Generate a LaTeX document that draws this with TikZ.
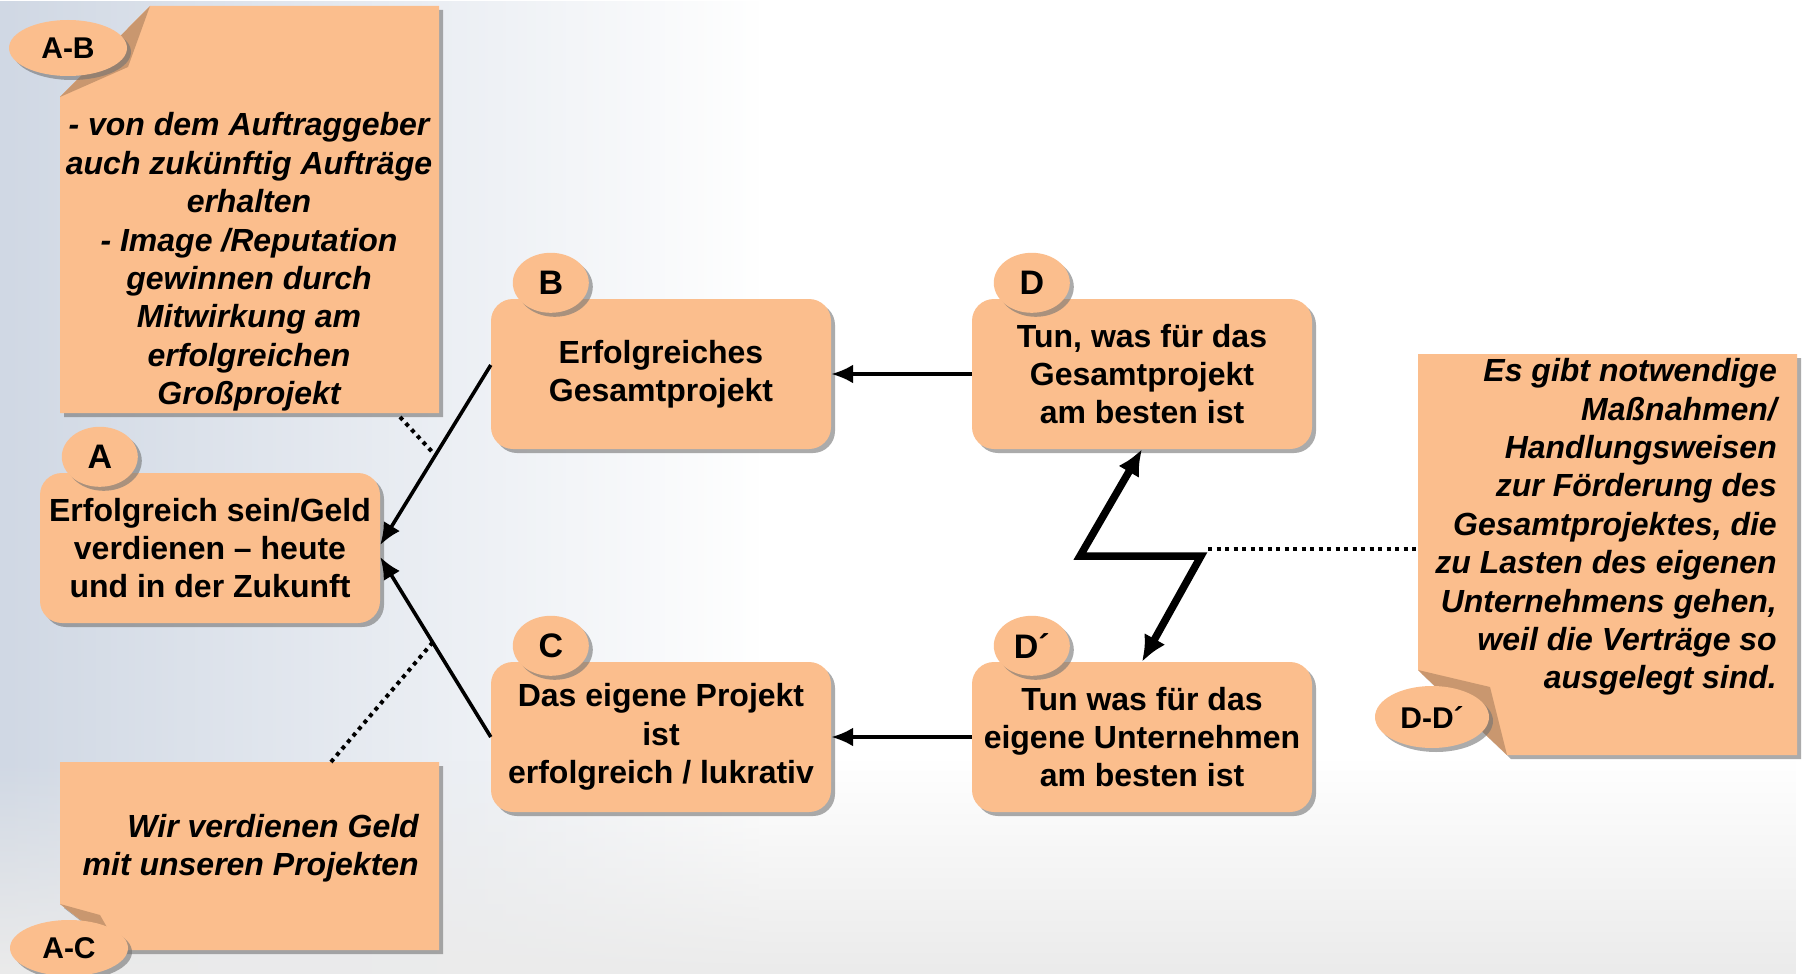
\documentclass[tikz,border=0pt]{standalone}
\usepackage{fontspec}
\setmainfont{Liberation Sans}
\usetikzlibrary{positioning,shapes.geometric,shadows,arrows.meta,fadings}

\definecolor{peach}{RGB}{251,190,141}
\definecolor{flapcol}{RGB}{201,151,111}
\definecolor{bgblue}{RGB}{208,216,228}

\tikzset{
  softshadow/.style={drop shadow={shadow xshift=4pt,shadow yshift=-4pt,fill=black!55,opacity=.6}},
  box/.style={rectangle,rounded corners=22pt,fill=peach,minimum width=340pt,minimum height=150pt,
    inner sep=2pt,align=center,font=\fontsize{32}{38.4}\selectfont\bfseries,softshadow},
  letter/.style={ellipse,fill=peach,minimum width=76pt,minimum height=60pt,inner sep=0pt,
    font=\fontsize{34}{40}\selectfont\bfseries,softshadow},
  tag/.style={ellipse,fill=peach,minimum width=118pt,minimum height=56pt,inner sep=0pt,
    font=\fontsize{30}{36}\selectfont\bfseries,softshadow},
  note/.style={fill=peach,softshadow},
  notetext/.style={inner sep=0pt,font=\fontsize{32}{38.4}\selectfont\bfseries\itshape},
  link/.style={line width=3.6pt,-{Latex[length=22pt,width=19pt]}},
  zigzag/.style={line width=7.5pt,line join=miter,{Latex[length=26pt,width=24pt]}-{Latex[length=26pt,width=24pt]}},
  dotline/.style={line width=4pt,dash pattern=on 4pt off 4.5pt}
}

\begin{document}
\begin{tikzpicture}[x=1pt,y=-1pt]
  \useasboundingbox (0,0) rectangle (1805,974);
  % background
  \fill[white] (0,0) rectangle (1805,974);
  \fill[bgblue,path fading=east] (0,0) rectangle (760,974);
  \fill[black!8,path fading=north] (0,760) rectangle (1805,974);

  % notes
  \fill[note] (150,6) -- (439,6) -- (439,413) -- (60,413) -- (60,97) -- cycle;
  \fill[flapcol] (150,6) -- (128,67) -- (60,97) -- cycle;
  \fill[note] (60,762) -- (439,762) -- (439,950) -- (120,950) -- (60,904) -- cycle;
  \fill[flapcol] (60,904) -- (100,915) -- (120,950) -- cycle;
  \fill[note] (1418,354) -- (1797,354) -- (1797,755) -- (1507,755) -- (1418,670) -- cycle;
  \fill[flapcol] (1418,670) -- (1490,687) -- (1507,755) -- cycle;

  \node[tag] (tAB) at (68,48) {A-B};
  \node[tag] (tAC) at (69,948) {A-C};
  \node[tag,minimum width=114pt,minimum height=62pt] (tDD) at (1432,717) {D-D\char"00B4};

  \node[notetext,align=center] (nAB) at (249,262) {- von dem Auftraggeber\\auch zukünftig Aufträge\\erhalten\\- Image /Reputation\\gewinnen durch\\Mitwirkung am\\erfolgreichen\\Großprojekt};
  \node[notetext,align=right,anchor=east] (nAC) at (419,848) {Wir verdienen Geld\\mit unseren Projekten};
  \node[notetext,align=right,anchor=east] (nDD) at (1777,527) {Es gibt notwendige\\Maßnahmen/\\Handlungsweisen\\zur Förderung des\\Gesamtprojektes, die\\zu Lasten des eigenen\\Unternehmens gehen,\\weil die Verträge so\\ausgelegt sind.};

  % boxes
  \node[box] (boxA) at (210,548) {Erfolgreich sein/Geld\\verdienen -- heute\\und in der Zukunft};
  \node[box] (boxB) at (661,374) {Erfolgreiches\\Gesamtprojekt};
  \node[box] (boxC) at (661,737) {Das eigene Projekt\\ist\\erfolgreich / lukrativ};
  \node[box] (boxD) at (1142,374) {Tun, was für das\\Gesamtprojekt\\am besten ist};
  \node[box] (boxDp) at (1142,737) {Tun was für das\\eigene Unternehmen\\am besten ist};

  \node[letter] (cA) at ([xshift=60pt,yshift=16pt]boxA.north west) {A};
  \node[letter] (cB) at ([xshift=60pt,yshift=16pt]boxB.north west) {B};
  \node[letter] (cC) at ([xshift=60pt,yshift=16pt]boxC.north west) {C};
  \node[letter] (cD) at ([xshift=60pt,yshift=16pt]boxD.north west) {D};
  \node[letter] (cDp) at ([xshift=60pt,yshift=16pt]boxDp.north west) {D\char"00B4};

  % connectors
  \draw[link] ([yshift=9pt]boxB.west) -- ([yshift=3pt]boxA.east);
  \draw[link] (boxC.west) -- ([yshift=-9pt]boxA.east);
  \draw[link] (boxD.west) -- (boxB.east);
  \draw[link] (boxDp.west) -- (boxC.east);

  \coordinate (zzL) at (1080,556);
  \coordinate (zzR) at (1201,556);
  \draw[zigzag] (boxD.south) -- (zzL) -- (zzR) -- (boxDp.north);

  \coordinate (dAB1) at (400,417);
  \coordinate (dAB2) at (436,456);
  \coordinate (dAC1) at (331,762);
  \coordinate (dAC2) at (433,642);
  \coordinate (dDD1) at (1208,549);
  \coordinate (dDD2) at (1418,549);
  \draw[dotline] (dAB1) -- (dAB2);
  \draw[dotline] (dAC1) -- (dAC2);
  \draw[dotline] (dDD1) -- (dDD2);
\end{tikzpicture}
\end{document}
